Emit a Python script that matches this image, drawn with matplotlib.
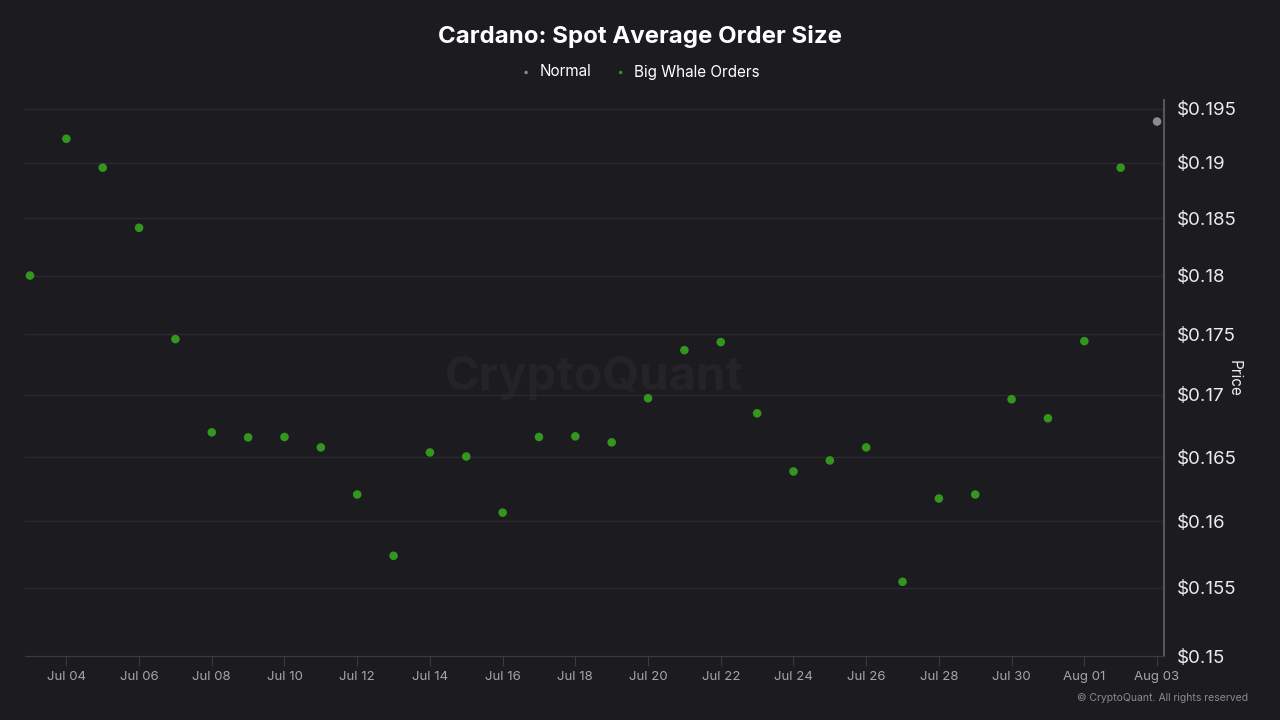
import numpy as np
import pandas as pd
import matplotlib
matplotlib.use("Agg")
import matplotlib.pyplot as plt
import matplotlib.dates as mdates
from matplotlib.ticker import FixedLocator, FuncFormatter, NullLocator

plt.rcParams["font.family"] = ["Inter", "DejaVu Sans"]

# data
whale_dates = pd.date_range("2024-07-03", "2024-08-02", freq="D")
whale_prices = [
    0.1800, 0.1922, 0.18955, 0.18417, 0.1746, 0.16697, 0.16657, 0.1666,
    0.16577, 0.16207, 0.15738, 0.16537, 0.16505, 0.16067, 0.1666, 0.16665,
    0.16617, 0.16972, 0.17368, 0.17435, 0.1685, 0.16387, 0.16474, 0.16577,
    0.15543, 0.16176, 0.16207, 0.16964, 0.1681, 0.17443, 0.18955,
]
normal_dates = pd.to_datetime(["2024-08-03"])
normal_prices = [0.19379]

y_ticks = [0.15, 0.155, 0.16, 0.165, 0.17, 0.175, 0.18, 0.185, 0.19, 0.195]

bg = "#1b1b20"
green = "#35961e"
grey = "#8a8a8f"

fig = plt.figure(figsize=(12.8, 7.2), dpi=100, facecolor=bg)
ax = fig.add_axes([25 / 1280, 1 - 656 / 720, (1164 - 25) / 1280, (656 - 100) / 720])
ax.set_facecolor(bg)

ax.scatter(normal_dates, normal_prices, s=38, color=grey, zorder=3, label="Normal",
           edgecolors="none")
ax.scatter(whale_dates, whale_prices, s=38, color=green, zorder=3,
           label="Big Whale Orders", edgecolors="none")

ax.set_yscale("log")
ax.set_ylim(0.15, 0.1958)
ax.yaxis.set_major_locator(FixedLocator(y_ticks))
ax.yaxis.set_minor_locator(NullLocator())
ax.yaxis.set_major_formatter(FuncFormatter(lambda v, p: f"${v:g}"))
ax.yaxis.tick_right()
ax.yaxis.set_label_position("right")
ax.tick_params(axis="y", length=0, labelsize=13.5, labelcolor="#ececee", pad=9)
ax.set_ylabel("Price", color="#ececee", fontsize=11, rotation=270)
ax.yaxis.set_label_coords(1.068, 0.5)

x0 = pd.Timestamp("2024-07-03") - pd.Timedelta(hours=3.3)
x1 = pd.Timestamp("2024-08-03") + pd.Timedelta(hours=4.6)
ax.set_xlim(x0, x1)
ax.xaxis.set_major_locator(FixedLocator(mdates.date2num(
    pd.date_range("2024-07-04", "2024-08-03", freq="2D"))))
ax.xaxis.set_major_formatter(mdates.DateFormatter("%b %d"))
ax.tick_params(axis="x", length=7, color="#3a3a40", labelsize=9.5,
               labelcolor="#a5a5aa", pad=4)

ax.grid(axis="y", color="#2a2a30", linewidth=1)
for side in ["top", "left"]:
    ax.spines[side].set_visible(False)
ax.spines["bottom"].set_color("#3a3a40")
ax.spines["right"].set_color("#55555a")
ax.spines["right"].set_linewidth(1.5)

ax.text(0.5, 0.5, "CryptoQuant", transform=ax.transAxes, ha="center", va="center",
        fontsize=34, color="#232328", fontweight="bold", zorder=1)

fig.text(0.5, 1 - 37 / 720, "Cardano: Spot Average Order Size", ha="center",
         va="center", color="white", fontsize=17.3, fontweight="bold")
leg = fig.legend(loc="center", bbox_to_anchor=(0.5, 1 - 72 / 720), ncol=2,
                 frameon=False, fontsize=11, labelcolor="white", markerscale=0.4,
                 handlelength=0.8, handletextpad=0.5, columnspacing=1.5)

fig.text(1248 / 1280, 1 - 698 / 720, "© CryptoQuant. All rights reserved",
         ha="right", va="center", color="#8a8a8f", fontsize=7.5)

fig.savefig("out.png", dpi=100, facecolor=bg)
